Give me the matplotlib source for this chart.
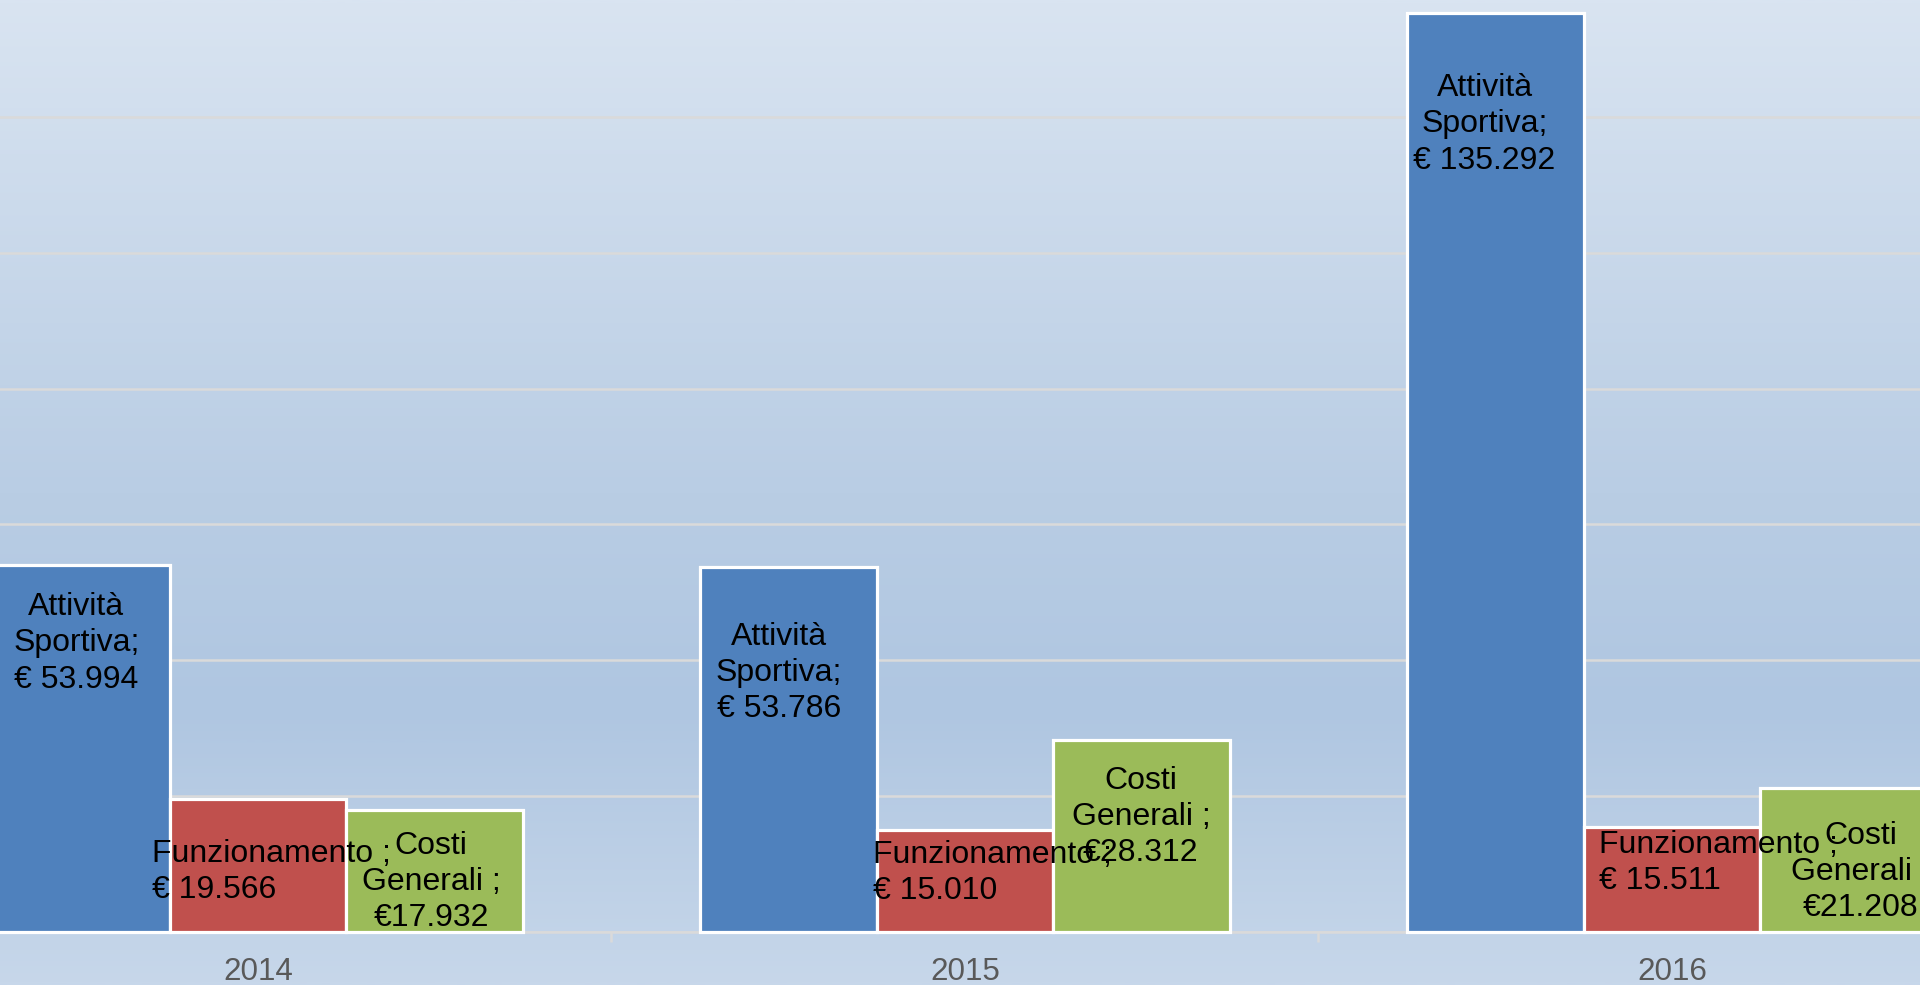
import numpy as np
import matplotlib
matplotlib.use("Agg")
from matplotlib import pyplot as plt
from matplotlib.colors import LinearSegmentedColormap

plt.rcParams['font.family'] = ['Liberation Sans', 'DejaVu Sans']

# data
years = ['2014', '2015', '2016']
attivita_sportiva = [53994, 53786, 135292]
funzionamento = [19566, 15010, 15511]
costi_generali = [17932, 28312, 21208]

series_names = ['Attività\nSportiva;', 'Funzionamento ;', 'Costi\nGenerali ;']
series_colors = ['#4F81BD', '#C0504D', '#9BBB59']

# label text for every bar (as shown in the chart)
labels_attivita = ['€ 53.994', '€ 53.786', '€ 135.292']
labels_funz = ['€ 19.566', '€ 15.010', '€ 15.511']
labels_costi = ['€17.932', '€28.312', '€21.208']

# hand-placed label anchors (data coords), one per bar
pos_attivita = [(-0.257, 42500), (0.737, 38100), (1.735, 118900)]
pos_funz = [(-0.150, 8800), (0.870, 8700), (1.897, 10150)]
pos_costi = [(0.245, 7350), (1.249, 16900), (2.267, 8800)]

W, H = 19.2, 9.85
fig = plt.figure(figsize=(W, H), dpi=100)

# gradient background
bg = fig.add_axes([0, 0, 1, 1], zorder=0)
cmap = LinearSegmentedColormap.from_list(
    'bg', [(0.0, '#D9E4F1'), (0.5, '#B9CDE4'), (0.72, '#AFC6E1'), (1.0, '#C7D7EA')])
grad = np.linspace(0, 1, 512).reshape(-1, 1)
bg.imshow(grad, aspect='auto', cmap=cmap, extent=[0, 1, 0, 1], origin='upper')
bg.set_axis_off()

ax = fig.add_axes([0, 53 / 985, 1, 932 / 985], zorder=1)
ax.patch.set_alpha(0)

x = np.arange(len(years))
w = 0.25
for i, (vals, col) in enumerate(zip([attivita_sportiva, funzionamento, costi_generali], series_colors)):
    ax.bar(x + (i - 1) * w, vals, width=w, color=col, edgecolor='white',
           linewidth=2.3, zorder=3, clip_on=False)

ax.set_yticks(np.arange(0, 140001, 20000))
ax.set_xlim(-0.365, 2.351)
ax.set_ylim(0, 137200)
ax.yaxis.grid(True, color='#DADADA', lw=1.8, zorder=0)
ax.set_axisbelow(True)
ax.tick_params(axis='y', left=False, labelleft=False)

for s in ['left', 'right', 'top']:
    ax.spines[s].set_visible(False)
ax.spines['bottom'].set_color('#DADADA')
ax.spines['bottom'].set_linewidth(1.8)

ax.set_xticks(x)
ax.set_xticklabels(years, fontsize=22.6, color='#595959')
ax.set_xticks([0.5, 1.5], minor=True)
ax.tick_params(axis='x', which='major', length=0, pad=18)
ax.tick_params(axis='x', which='minor', length=7, width=1.8, color='#DADADA')

txt = dict(fontsize=23, color='black', va='center', linespacing=1.27, zorder=5)
for i in range(len(years)):
    ax.text(*pos_attivita[i], series_names[0] + '\n' + labels_attivita[i],
            ha='center', multialignment='center', **txt)
    ax.text(*pos_funz[i], series_names[1] + '\n' + labels_funz[i],
            ha='left', multialignment='left', **txt)
    ax.text(*pos_costi[i], series_names[2] + '\n' + labels_costi[i],
            ha='center', multialignment='center', **txt)

fig.savefig('out.png', dpi=100)
